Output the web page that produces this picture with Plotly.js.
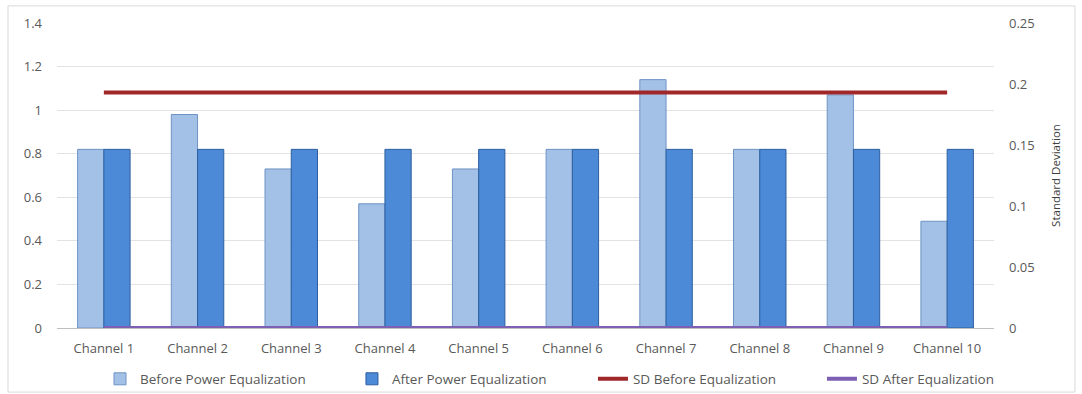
<!DOCTYPE html>
<html>
<head>
<meta charset="utf-8">
<script src="https://cdn.plot.ly/plotly-3.0.1.min.js"></script>
<style>html,body{margin:0;padding:0;background:#fff;}#chart{width:1082px;height:394px;}</style>
</head>
<body>
<div id="chart"></div>
<script>
const categories = ["Channel 1","Channel 2","Channel 3","Channel 4","Channel 5","Channel 6","Channel 7","Channel 8","Channel 9","Channel 10"];
const beforeEq = [0.82, 0.98, 0.73, 0.57, 0.73, 0.82, 1.14, 0.82, 1.07, 0.49];
const afterEq = [0.82, 0.82, 0.82, 0.82, 0.82, 0.82, 0.82, 0.82, 0.82, 0.82];
const sdBefore = [0.193, 0.193, 0.193, 0.193, 0.193, 0.193, 0.193, 0.193, 0.193, 0.193];
const sdAfter = [0, 0, 0, 0, 0, 0, 0, 0, 0, 0];
const leftTicks = [0, 0.2, 0.4, 0.6, 0.8, 1, 1.2, 1.4];
const leftTickText = ["0", "0.2", "0.4", "0.6", "0.8", "1", "1.2", "1.4"];
const rightTicks = [0, 0.05, 0.1, 0.15, 0.2, 0.25];
const rightTickText = ["0", "0.05", "0.1", "0.15", "0.2", "0.25"];

const fam = "Open Sans, Noto Sans, sans-serif";
const tickFont = {family: fam, size: 13, color: "#595959"};
const legFont = {family: fam, size: 13.5, color: "#595959"};

const traces = [
  {type: "bar", name: "Before Power Equalization", x: categories, y: beforeEq, legend: "legend",
   marker: {color: "#A3C1E6", line: {color: "#6E93C4", width: 1}}},
  {type: "bar", name: "After Power Equalization", x: categories, y: afterEq, legend: "legend2",
   marker: {color: "#4C89D6", line: {color: "#2D5F9E", width: 1}}},
  {type: "scatter", mode: "lines", name: "SD Before Equalization", x: categories, y: sdBefore, yaxis: "y2", legend: "legend3",
   line: {color: "#A0282B", width: 4}},
  {type: "scatter", mode: "lines", name: "SD After Equalization", x: categories, y: sdAfter, yaxis: "y2", legend: "legend4",
   line: {color: "#7D5FB3", width: 4}, cliponaxis: false}
];

function leg(xp) {
  return {orientation: "h", x: xp, xanchor: "left", xref: "paper", y: 0.038, yref: "container", yanchor: "middle",
          font: legFont, bgcolor: "rgba(0,0,0,0)", borderwidth: 0};
}

const layout = {
  width: 1082, height: 394,
  margin: {l: 57, r: 88, t: 23, b: 66},
  paper_bgcolor: "#ffffff", plot_bgcolor: "#ffffff",
  font: tickFont,
  barmode: "group", bargap: 0.44, bargroupgap: 0,
  showlegend: true,
  legend: leg(0.0459),
  legend2: leg(0.3148),
  legend3: leg(0.5720),
  legend4: leg(0.8164),
  xaxis: {type: "category", showgrid: false, showline: true, linecolor: "#BFBFBF", linewidth: 1,
          ticks: "", tickfont: tickFont, zeroline: false, ticklabelstandoff: 8},
  yaxis: {range: [0, 1.4], tickvals: leftTicks, ticktext: leftTickText, showgrid: true, gridcolor: "#E3E3E3",
          showline: false, zeroline: false, ticks: "", tickfont: tickFont, ticklabelstandoff: 14},
  yaxis2: {range: [0, 0.25], overlaying: "y", side: "right", tickvals: rightTicks, ticktext: rightTickText,
           showgrid: false, showline: false, zeroline: false, ticks: "", tickfont: tickFont, ticklabelstandoff: 14,
           title: {text: "Standard Deviation", font: {family: fam, size: 11.5, color: "#404040"}, standoff: 18}},
  shapes: [
    {type: "rect", xref: "paper", yref: "paper", x0: -0.0523, x1: 1.0864, y0: -0.21, y1: 1.056,
     line: {color: "#D9D9D9", width: 1}, fillcolor: "rgba(0,0,0,0)"}
  ]
};

Plotly.newPlot("chart", traces, layout, {displayModeBar: false, staticPlot: true});
</script>
</body>
</html>
